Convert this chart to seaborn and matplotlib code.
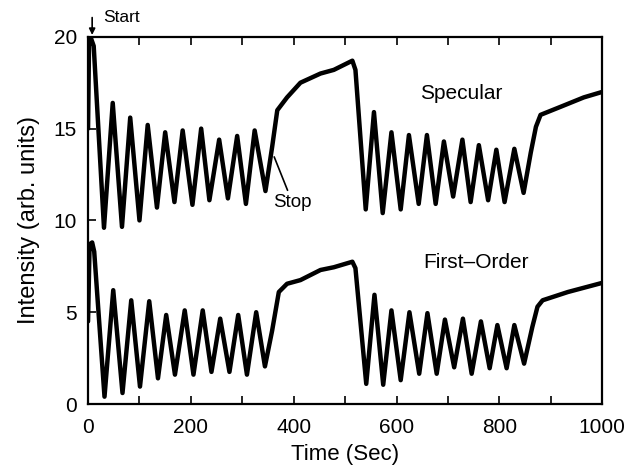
import numpy as np
import pandas as pd
import matplotlib
matplotlib.use("Agg")
import matplotlib.pyplot as plt
import seaborn as sns

spec_time = [0, 2, 6, 11,
             31, 48, 66, 82, 100, 116, 134, 150, 168, 184, 203, 220, 236, 255, 272, 290, 307, 324, 345,
             358, 368, 387, 413, 452, 478, 514, 520,
             540, 556, 573, 590, 608, 624, 643, 659, 676, 692, 710, 728, 744, 760, 778, 794, 810, 829, 847,
             861, 871, 880, 920, 964, 1000]
spec_int = [15.0, 19.8, 19.9, 19.5,
            9.6, 16.4, 9.65, 15.6, 10.0, 15.2, 10.7, 14.8, 11.0, 14.9, 10.85, 15.0, 11.1, 14.4, 11.2, 14.6, 10.9, 14.9, 11.6,
            14.0, 16.0, 16.7, 17.5, 18.0, 18.2, 18.7, 18.2,
            10.6, 15.9, 10.4, 14.8, 10.6, 14.65, 10.9, 14.65, 10.9, 14.3, 11.3, 14.4, 11.0, 14.1, 11.1, 13.85, 11.0, 13.9, 11.5,
            13.7, 15.1, 15.75, 16.2, 16.7, 17.0]

# First-order beam intensity
first_time = [0, 3, 8, 12,
              32, 49, 67, 84, 101, 119, 136, 152, 169, 188, 205, 223, 240, 257, 275, 292, 309, 327, 344,
              358, 371, 387, 413, 452, 478, 514, 520,
              541, 557, 574, 590, 608, 625, 644, 660, 678, 694, 712, 729, 746, 764, 781, 796, 814, 829, 848,
              864, 874, 884, 933, 1000]
first_int = [4.5, 8.7, 8.8, 8.3,
             0.4, 6.2, 0.6, 5.65, 0.95, 5.6, 1.4, 4.85, 1.6, 5.1, 1.6, 5.1, 1.75, 4.65, 1.75, 4.85, 1.6, 5.0, 2.05,
             4.0, 6.1, 6.55, 6.75, 7.3, 7.45, 7.75, 7.4,
             1.1, 5.95, 1.05, 5.1, 1.3, 5.0, 1.65, 4.95, 1.65, 4.6, 2.0, 4.65, 1.65, 4.5, 1.95, 4.3, 1.95, 4.3, 2.2,
             4.2, 5.3, 5.65, 6.1, 6.6]

x_ticks = [0, 200, 400, 600, 800, 1000]
y_ticks = [0, 5, 10, 15, 20]

df = pd.concat([
    pd.DataFrame({'Time': spec_time, 'Intensity': spec_int, 'Beam': 'Specular'}),
    pd.DataFrame({'Time': first_time, 'Intensity': first_int, 'Beam': 'First-Order'}),
])

sns.set_theme(style='ticks')
plt.rcParams['font.family'] = ['Liberation Sans', 'DejaVu Sans']
plt.rcParams['text.color'] = 'black'
plt.rcParams['axes.labelcolor'] = 'black'
plt.rcParams['xtick.color'] = 'black'
plt.rcParams['ytick.color'] = 'black'

fig = plt.figure(figsize=(6.38, 4.72), dpi=100)
ax = fig.add_axes([0.138, 0.144, 0.806, 0.778])

sns.lineplot(data=df, x='Time', y='Intensity', units='Beam', estimator=None,
             color='black', linewidth=3.2, sort=False, ax=ax,
             solid_joinstyle='round', solid_capstyle='round')

ax.set_xlim(0, 1000)
ax.set_ylim(0, 20)
ax.set_xticks(x_ticks)
ax.set_xticks(range(0, 1001, 100), minor=True)
ax.set_yticks(y_ticks)
ax.tick_params(axis='both', which='both', direction='in', labelsize=15, width=1.2,
               color='black', labelcolor='black')
ax.tick_params(axis='x', which='both', top=True, length=6, pad=10)
ax.tick_params(axis='y', which='both', length=6, pad=8)
for s in ax.spines.values():
    s.set_linewidth(1.6)
    s.set_color('black')
    s.set_visible(True)

ax.set_xlabel('Time (Sec)', fontsize=16, labelpad=5)
ax.set_ylabel('Intensity (arb. units)', fontsize=17, labelpad=10)

ax.text(725, 16.9, 'Specular', fontsize=15, ha='center', va='center')
ax.text(754, 7.7, 'First\u2013Order', fontsize=15, ha='center', va='center')

ax.annotate('', xy=(8, 19.95), xytext=(8, 21.2),
            arrowprops=dict(arrowstyle='-|>', color='black', lw=1.2, mutation_scale=9),
            annotation_clip=False)
ax.text(29, 21.05, 'Start', fontsize=12.5, ha='left', va='center', clip_on=False)

ax.annotate('', xy=(360, 13.6), xytext=(390, 11.5),
            arrowprops=dict(arrowstyle='-', color='black', lw=1.2))
ax.text(360, 10.95, 'Stop', fontsize=13.5, ha='left', va='center')

fig.savefig('out.png', dpi=100)
